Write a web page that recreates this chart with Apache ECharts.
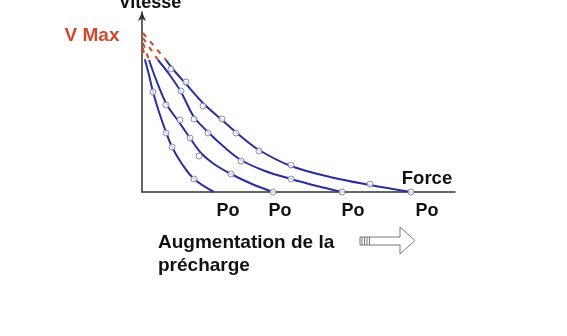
<!DOCTYPE html>
<html><head><meta charset="utf-8">
<script src="https://cdn.jsdelivr.net/npm/echarts@6/dist/echarts.min.js"></script>
<style>html,body{margin:0;padding:0;background:#fff}#c{width:567px;height:336px}</style>
</head><body><div id="c"></div>
<script>
// Force (x) vs Vitesse (y), arbitrary units
const curve1 = [[3,132],[7,117],[11,100],[17,80],[24,60],[30,45],[40,28],[52,13],[72,0]];
const curve2 = [[7,132],[15,110],[25,87],[37,70],[48,54],[59,39],[72,28],[89,18],[110,8],[131,0]];
const curve3 = [[16,132],[27,118],[39,100],[52,75],[66,60],[81,46],[99,32],[123,21],[149,13],[175,6],[200,0]];
const curve4 = [[24,132],[30,124],[44,108],[62,88],[80,72],[96,58],[117,42],[149,26],[188,15],[228,7],[269,0]];
const dots1 = [[11,100],[24,59],[30,45],[52,13]];
const dots2 = [[24,87],[38,72],[48,54],[57,36],[89,18],[131,0]];
const dots3 = [[39,101],[52,73],[66,59],[99,31],[149,13],[200,0]];
const dots4 = [[29,123],[44,110],[61,86],[80,73],[94,59],[117,41],[149,27],[228,8],[269,0]];
const ext1 = [[1,144],[3,132]];
const ext2 = [[1,149],[7,132]];
const ext3 = [[1,154],[16,132]];
const ext4 = [[1,159],[24,132]];
const poLabels = ['Po','Po','Po','Po'];

const BLUE = '#2b2f9e', RED = '#d4472e';
const FONT = 'bold {s}px "Liberation Sans", Arial, sans-serif';
const f = s => FONT.replace('{s}', s);

const chart = echarts.init(document.getElementById('c'), null, {renderer:'canvas'});
const lineS = d => ({type:'line', data:d, smooth:0.35, showSymbol:false, symbol:'none',
  lineStyle:{color:BLUE, width:2}, z:2, animation:false});
const extS = d => ({type:'line', data:d, showSymbol:false, symbol:'none',
  lineStyle:{color:RED, width:2, type:[5,6]}, z:2, animation:false});
const dotS = d => ({type:'scatter', data:d, symbol:'circle', symbolSize:6,
  itemStyle:{color:'#fff', borderColor:'#6d7896', borderWidth:1}, z:3, animation:false});

function txt(t, x, y, size, color, align){
  return {type:'text', style:{text:t, x:x, y:y, font:f(size), fill:color||'#111',
    textAlign:align||'center', textVerticalAlign:'middle', align:align||'center', verticalAlign:'middle'}, z:10};
}
const poX = [228, 280, 353, 427];
const graphic = [
  txt('Vitesse', 150, 3.5, 18),
  txt('V Max', 92, 36, 19, RED),
  txt('Force', 427, 178.5, 18.5),
  ...poLabels.map((p,i)=>txt(p, poX[i], 211, 18)),
  txt('Augmentation de la', 158, 243, 19, '#111', 'left'),
  txt('précharge', 158, 266, 19, '#111', 'left'),
  {type:'polygon', shape:{points:[[360,237],[400,237],[400,227],[415,240.5],[400,254],[400,245],[360,245]]},
   style:{fill:'#fff', stroke:'#777', lineWidth:1}, z:10},
  ...[362,364.5,367,369.5].map(x=>({type:'line', shape:{x1:x,y1:237,x2:x,y2:245}, style:{stroke:'#777', lineWidth:1}, z:11}))
];

chart.setOption({
  animation:false,
  grid:{left:142, right:112, top:12, bottom:144, containLabel:false},
  xAxis:{type:'value', min:0, max:313, axisLine:{show:true, lineStyle:{color:'#333', width:1.5}},
    axisTick:{show:false}, axisLabel:{show:false}, splitLine:{show:false}},
  yAxis:{type:'value', min:0, max:180, axisLine:{show:true, symbol:['none','arrow'], symbolSize:[6,9],
    lineStyle:{color:'#333', width:1.5}}, axisTick:{show:false}, axisLabel:{show:false}, splitLine:{show:false}},
  series:[ext1,ext2,ext3,ext4].map(extS)
    .concat([curve1,curve2,curve3,curve4].map(lineS))
    .concat([dots1,dots2,dots3,dots4].map(dotS)),
  graphic: graphic
});
</script></body></html>
